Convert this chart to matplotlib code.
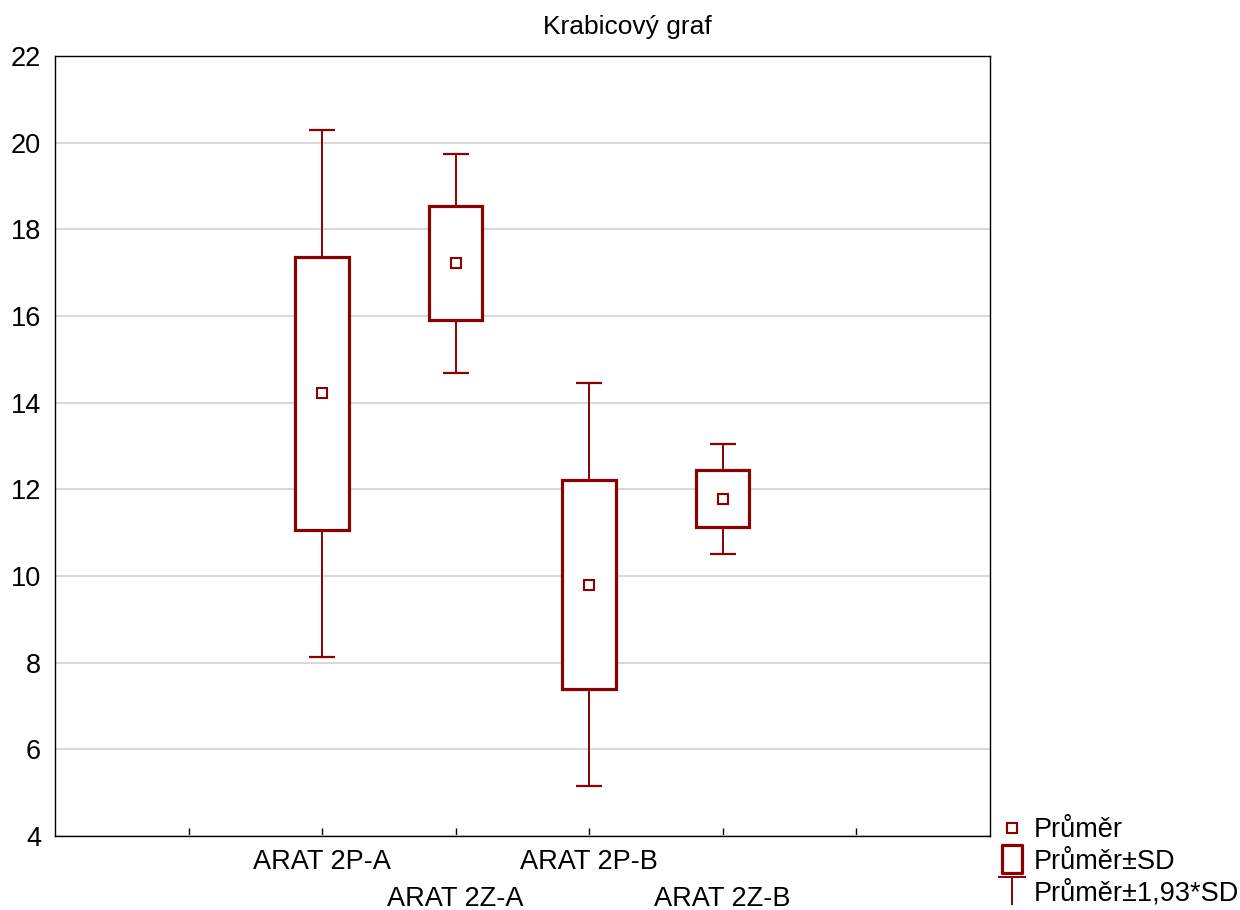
import numpy as np
import matplotlib
matplotlib.use('Agg')
import matplotlib.pyplot as plt
from matplotlib.lines import Line2D
from matplotlib.path import Path

# data
groups = ['ARAT 2P-A', 'ARAT 2Z-A', 'ARAT 2P-B', 'ARAT 2Z-B']
means = np.array([14.22, 17.22, 9.80, 11.78])
sds = np.array([3.15, 1.31, 2.41, 0.66])
k = 1.93

RED = '#8b0000'
plt.rcParams['font.family'] = ['Liberation Sans', 'DejaVu Sans']
FS = 19.5

fig = plt.figure(figsize=(12.4, 9.1), dpi=100)
ax = fig.add_axes([0.0444, 0.0813, 0.7536, 0.8572])

pos = np.arange(2, 2 + len(groups))

# whiskers (mean +- k*SD)
ax.errorbar(pos, means, yerr=k * sds, fmt='none', ecolor=RED, elinewidth=1.4,
            capsize=9.5, capthick=1.6, zorder=2)
# boxes (mean +- SD)
ax.bar(pos, 2 * sds, bottom=means - sds, width=0.4, color='white',
       edgecolor=RED, linewidth=2.3, zorder=3)
# means
ax.plot(pos, means, ls='none', marker='s', ms=7, mfc='white', mec=RED, mew=1.5, zorder=4)

ax.set_xlim(0, 7)
ax.set_ylim(4, 22)
ax.set_yticks(np.arange(4, 23, 2))
ax.yaxis.grid(True, color='#d9d9d9', lw=1.5, zorder=0)
ax.set_axisbelow(True)

xlabels = ['', groups[0], '\n' + groups[1], groups[2], '\n' + groups[3], '']
ax.set_xticks(np.arange(1, 7), xlabels)
for t in ax.get_xticklabels():
    t.set_linespacing(1.56)
ax.tick_params(axis='x', direction='in', length=6, width=1, labelsize=FS, pad=9)
ax.tick_params(axis='y', length=0, labelsize=FS, pad=10)
for s in ax.spines.values():
    s.set_linewidth(1.0)

fig.text(0.506, 0.970, 'Krabicový graf', ha='center', va='center', fontsize=19)

# legend
box_path = Path([(-0.72, -1), (0.72, -1), (0.72, 1), (-0.72, 1), (-0.72, -1)],
                [Path.MOVETO, Path.LINETO, Path.LINETO, Path.LINETO, Path.CLOSEPOLY])
t_path = Path([(-1, 1), (1, 1), (0, 1), (0, -1)],
              [Path.MOVETO, Path.LINETO, Path.MOVETO, Path.LINETO])
handles = [
    Line2D([], [], ls='none', marker='s', ms=7, mfc='white', mec=RED, mew=1.5),
    Line2D([], [], ls='none', marker=box_path, ms=20, mfc='white', mec=RED, mew=2.3),
    Line2D([], [], ls='none', marker=t_path, ms=20, mfc='none', mec=RED, mew=1.4),
]
labels = ['Průměr', 'Průměr±SD', 'Průměr±1,93*SD']
fig.legend(handles, labels, loc='lower left', bbox_to_anchor=(0.792, -0.014),
           frameon=False, fontsize=FS, handlelength=1.0, handletextpad=0.3,
           labelspacing=0.2, borderaxespad=0.2)

fig.savefig('out.png', dpi=100)
